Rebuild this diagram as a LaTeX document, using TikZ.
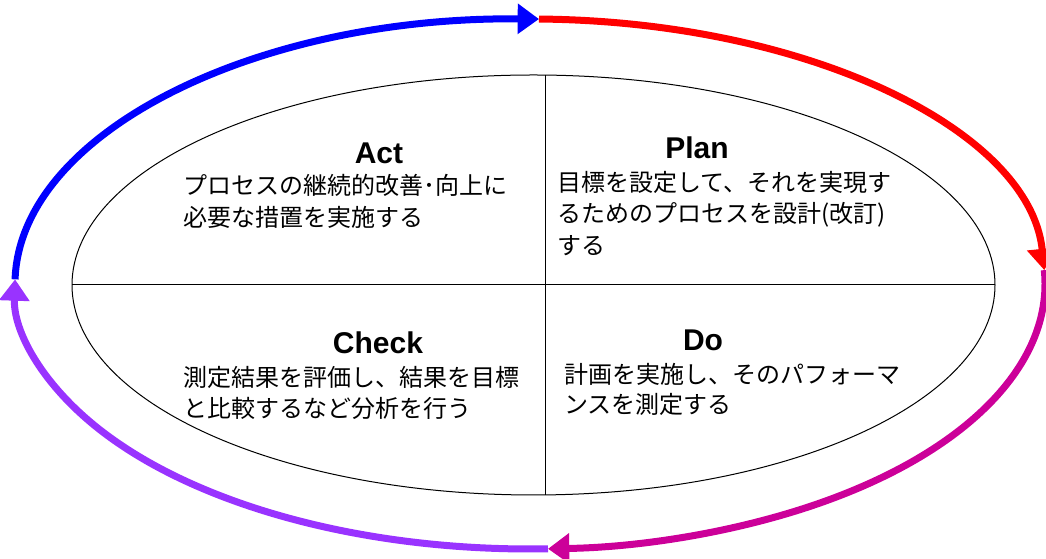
\documentclass[tikz,border=0pt]{standalone}
\usepackage{fontspec}
\setmainfont{Liberation Sans}
\newfontfamily\cjk{Noto Sans CJK JP}
\usetikzlibrary{arrows.meta,calc}
\definecolor{cblue}{RGB}{0,0,255}
\definecolor{cred}{RGB}{255,0,0}
\definecolor{cmag}{RGB}{204,0,153}
\definecolor{cpur}{RGB}{153,51,255}
\begin{document}
\begin{tikzpicture}[x=0.75pt,y=0.75pt,
  cyc/.style={line width=5.25pt,-{Triangle[length=16pt,width=22pt]}},
  head/.style={inner sep=0pt,font=\bfseries\fontsize{22.5}{26}\selectfont},
  jline/.style={inner sep=0pt,anchor=base west,font=\cjk\fontsize{18}{23}\selectfont},
  thin/.style={line width=0.75pt,black}]
\useasboundingbox (0,0) rectangle (1046,559);
% inner ellipse and quadrant lines
\coordinate (IC) at (533.5,274);
\draw[thin] (IC) ellipse [x radius=461.5, y radius=210];
\coordinate (vt) at (545,484);
\coordinate (vb) at (545,64);
\coordinate (hl) at (72,274);
\coordinate (hr) at (995,274);
\draw[thin] (vt) -- (vb);
\draw[thin] (hl) -- (hr);
% outer cycle
\coordinate (OC) at (530,275);
\coordinate (pL) at ($(OC)+(179:515 and 265)$);
\coordinate (pT) at ($(OC)+(89:515 and 265)$);
\coordinate (pR) at ($(OC)+(3:515 and 265)$);
\coordinate (pB) at ($(OC)+(-88:515 and 265)$);
\draw[cyc,cblue] (pL) arc[start angle=179,end angle=89,x radius=515,y radius=265];
\draw[cyc,cred] (pT) arc[start angle=89,end angle=3,x radius=515,y radius=265];
\draw[cyc,cmag] (pR) arc[start angle=3,end angle=-88,x radius=515,y radius=265];
\draw[cyc,cpur] (pB) arc[start angle=-88,end angle=-181,x radius=515,y radius=265];
% texts
\node[head] (act) at (379,406) {Act};
\node[jline] (act1) at (183,364) {プロセスの継続的改善･向上に};
\node[jline] (act2) at (183,332) {必要な措置を実施する};
\node[head] (plan) at (697,411) {Plan};
\node[jline] (plan1) at (557,367) {目標を設定して、それを実現す};
\node[jline] (plan2) at (557,336) {るためのプロセスを設計(改訂)};
\node[jline] (plan3) at (557,304) {する};
\node[head] (check) at (378,216) {Check};
\node[jline] (check1) at (183,172) {測定結果を評価し、結果を目標};
\node[jline] (check2) at (183,141) {と比較するなど分析を行う};
\node[head] (do) at (703,219) {Do};
\node[jline] (do1) at (564,175) {計画を実施し、そのパフォーマ};
\node[jline] (do2) at (564,145) {ンスを測定する};
\end{tikzpicture}
\end{document}
